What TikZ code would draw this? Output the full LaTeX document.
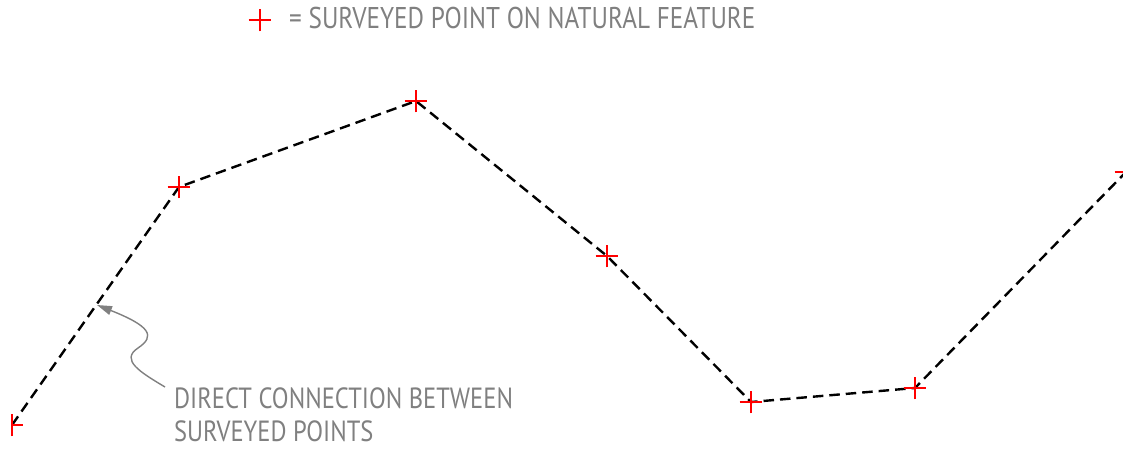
\documentclass[tikz,border=0pt]{standalone}
\usepackage{fontspec}
\setmainfont{PT Sans}[FakeStretch=0.84]
\usetikzlibrary{shapes.misc,arrows.meta,backgrounds}
\definecolor{labelgray}{HTML}{808080}
\tikzset{
  svpt/.style={cross out, draw=red, line width=2pt, rotate=45, minimum size=14.14pt, inner sep=0pt},
  feature/.style={dash pattern=on 10.5pt off 6pt, line width=2.4pt, black},
  lbl/.style={text=labelgray, font=\fontsize{30}{33}\selectfont, inner sep=0pt, anchor=base west},
  leader/.style={labelgray, line width=1.4pt, -{Triangle[length=15pt,width=9pt]}}
}
\begin{document}
\begin{tikzpicture}[x=1pt,y=-1pt]
\useasboundingbox (0,0) rectangle (1123,450);
\begin{scope}
\clip (11,0) rectangle (1123,450);
\node[svpt] (p1) at (12,425) {};
\node[svpt] (p2) at (179,187) {};
\node[svpt] (p3) at (416,101) {};
\node[svpt] (p4) at (607,256) {};
\node[svpt] (p5) at (751,402) {};
\node[svpt] (p6) at (915,388) {};
\node[svpt] (p7) at (1126,172) {};
\begin{pgfonlayer}{background}
\clip (11,0) rectangle (1123,450);
\draw[feature] (p1.center) -- (p2.center) -- (p3.center) -- (p4.center) -- (p5.center) -- (p6.center) -- (p7.center);
\end{pgfonlayer}
\end{scope}
\node[svpt] (leg) at (260,20) {};
\node[lbl] (legtext) at (289,28) {= SURVEYED POINT ON NATURAL FEATURE};
\node[lbl, font=\fontsize{29.2}{33}\selectfont] (note1) at (174,408) {DIRECT CONNECTION BETWEEN};
\node[lbl, font=\fontsize{29.2}{33}\selectfont] (note2) at (174,441) {SURVEYED POINTS};
\coordinate (tip) at (97,305);
\coordinate (start) at (165,387);
\draw[leader] (start) .. controls (140,372) and (120,360) .. (138,348) .. controls (156,336) and (150,326) .. (tip);
\end{tikzpicture}
\end{document}
